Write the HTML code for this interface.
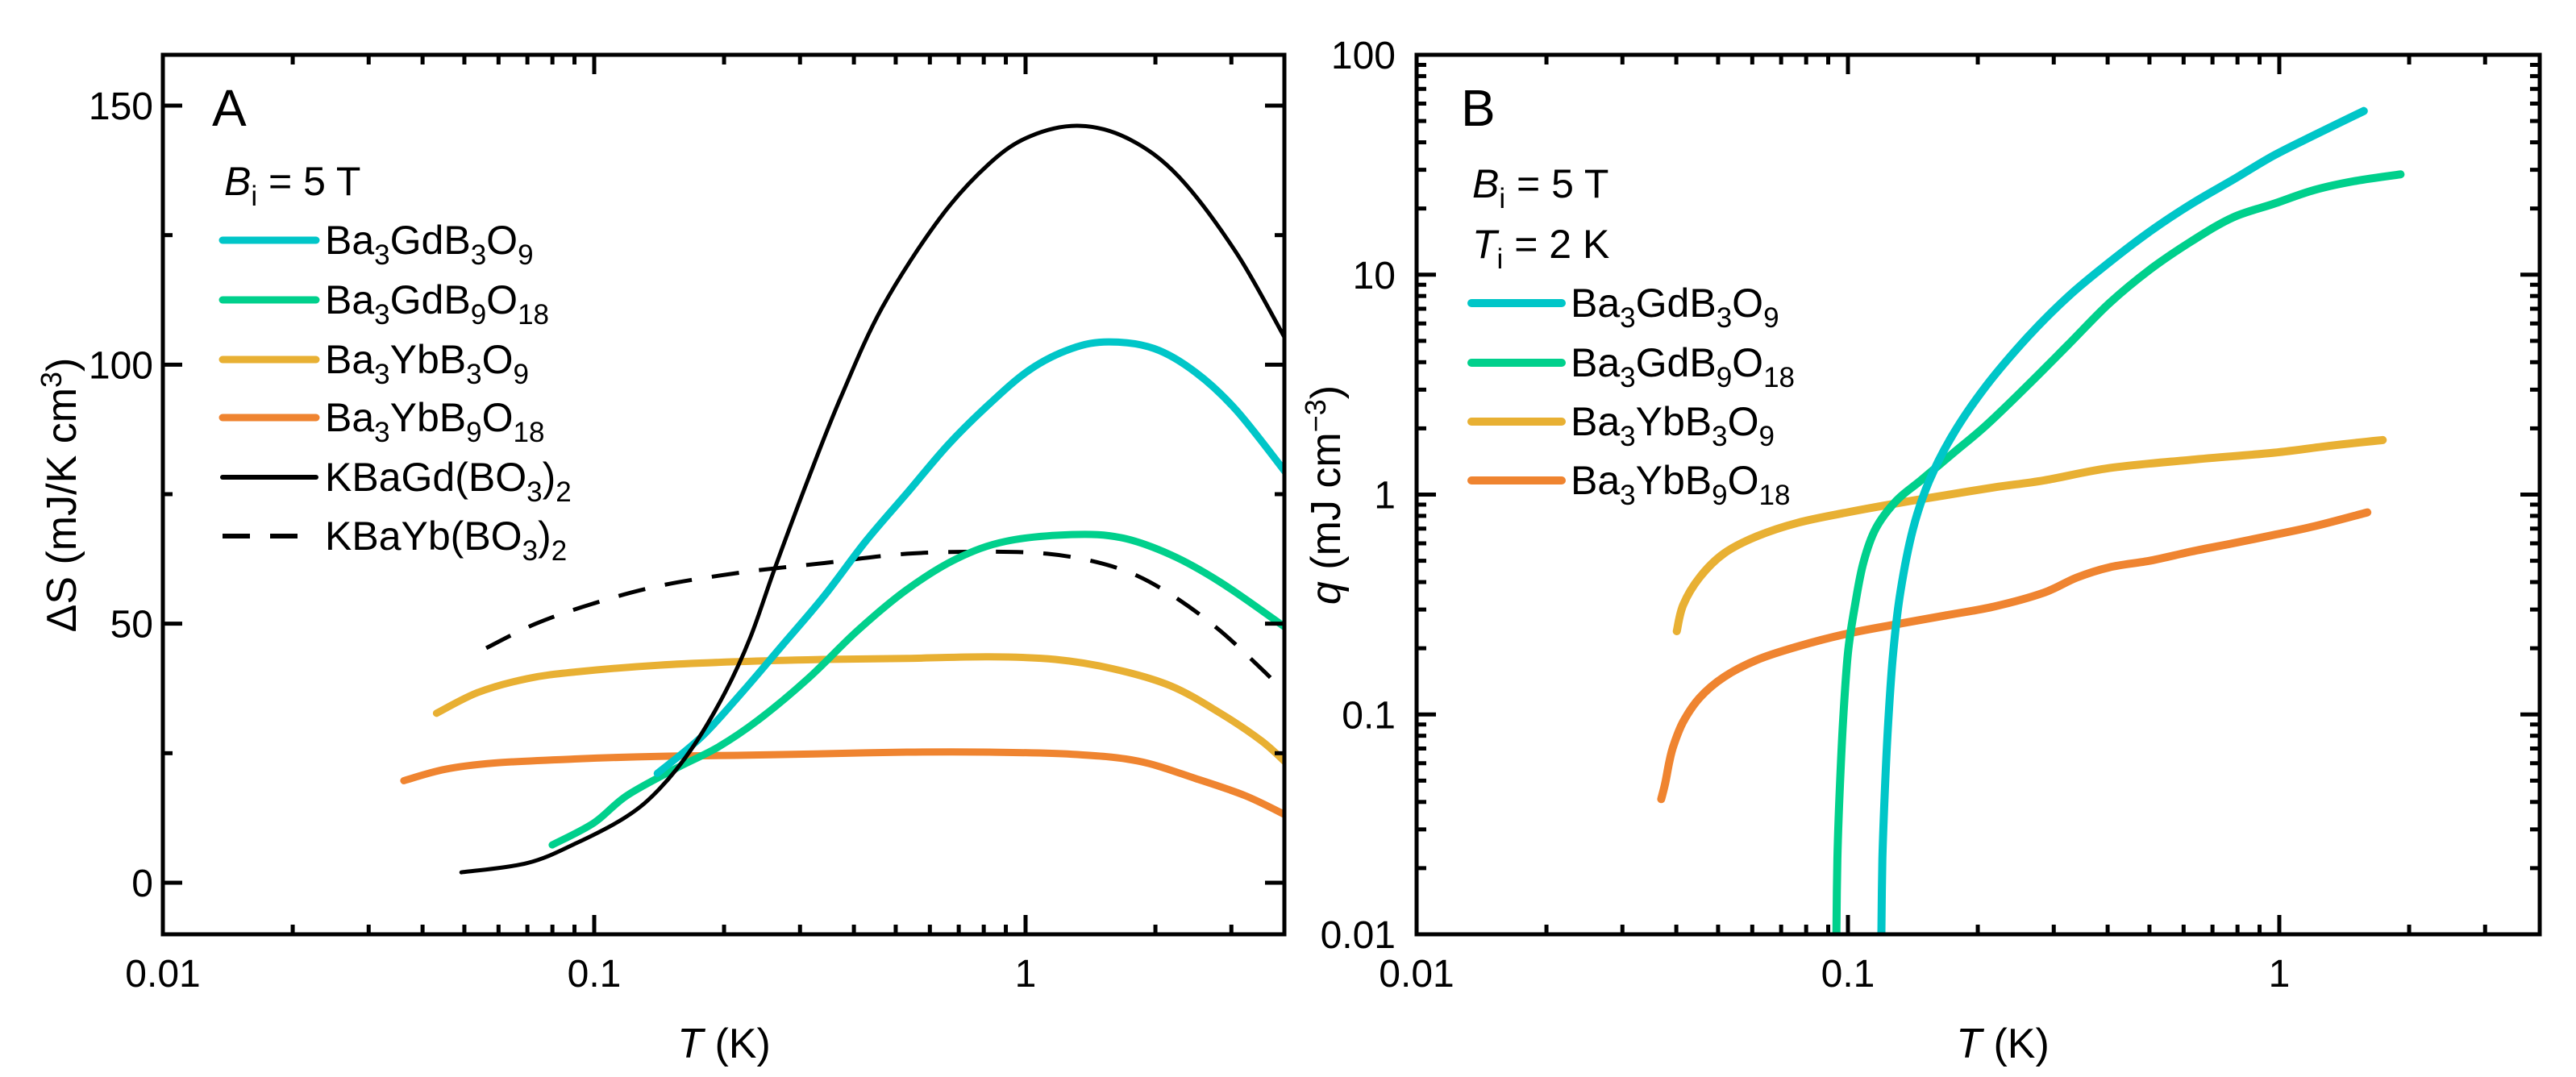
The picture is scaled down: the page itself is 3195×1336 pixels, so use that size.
<!DOCTYPE html>
<html><head><meta charset="utf-8"><style>
html,body{margin:0;padding:0;background:#fff;}
svg{display:block;font-family:"Liberation Sans",Arial,sans-serif;}
</style></head><body>
<svg id="fig" width="3195" height="1336" viewBox="0 0 3195 1336" xmlns="http://www.w3.org/2000/svg">
<g id="panelA"></g>
<g id="panelB"></g>
</svg>
<script>
// ---------- Panel A data (T in K, ΔS in mJ/K cm^3) ----------
const aCyanT=[0.140,0.177,0.220,0.274,0.341,0.426,0.531,0.661,0.824,1.026,1.279,1.560,1.987,2.48,3.08,4.0];
const aCyanV=[21.1,28.1,36.7,46.0,55.3,65.9,75.2,84.5,92.4,99.1,103.1,104.4,103.1,98.5,91.2,79.3];
const aGreenT=[0.0799,0.0996,0.119,0.155,0.193,0.240,0.313,0.407,0.531,0.691,0.900,1.279,1.667,2.17,2.83,4.0];
const aGreenV=[7.3,11.5,16.8,22.1,26.1,31.4,39.4,48.6,56.6,62.5,65.9,67.2,66.6,63.3,58.0,49.3];
const aYellowT=[0.0431,0.0537,0.070,0.0912,0.1416,0.220,0.341,0.531,0.824,1.172,1.594,2.17,2.83,3.52,4.0];
const aYellowV=[32.7,36.7,39.4,40.7,42.0,42.7,43.1,43.3,43.6,43.1,41.3,38.0,32.7,27.4,23.3];
const aOrangeT=[0.0362,0.0451,0.0587,0.0912,0.1416,0.220,0.341,0.531,0.824,1.279,1.82,2.48,3.23,4.0];
const aOrangeV=[19.7,21.9,23.1,23.9,24.4,24.6,24.9,25.2,25.2,24.8,23.5,20.1,16.8,13.1];
const aGdT=[0.0492,0.070,0.0912,0.119,0.1416,0.169,0.201,0.230,0.262,0.313,0.373,0.465,0.632,0.824,1.026,1.337,1.742,2.27,3.08,4.0];
const aGdV=[2.0,3.8,7.7,12.8,18.1,26.1,36.7,47.3,60.6,77.8,93.7,111.0,128.2,138.8,144.1,146.1,143.5,136.2,121.6,105.0];
const aYbT=[0.0562,0.0732,0.0996,0.1416,0.220,0.341,0.531,0.824,1.122,1.459,1.82,2.27,2.83,3.52,4.0];
const aYbV=[45.3,50.0,53.9,57.3,59.9,61.7,63.5,63.9,63.5,61.9,59.2,54.6,48.6,41.3,36.7];
const aYTicks=[0,50,100,150];
const aYTickLabels=["0","50","100","150"];
const xTicks=[0.01,0.1,1];
const xTickLabels=["0.01","0.1","1"];
// ---------- Panel B data (T in K, q in mJ/cm^3) ----------
const bCyanT=[0.1195,0.1202,0.1218,0.1240,0.1273,0.1324,0.1414,0.1542,0.1758,0.2094,0.2607,0.3246,0.404,0.503,0.626,0.780,0.970,1.208,1.570];
const bCyanV=[0.0095,0.022,0.0452,0.0927,0.1905,0.363,0.693,1.15,1.90,3.13,5.19,7.98,11.4,15.8,21.0,27.0,34.8,43.2,55.5];
const bGreenT=[0.0940,0.0945,0.0957,0.0974,0.1000,0.1040,0.1086,0.1161,0.1295,0.1476,0.1758,0.2094,0.2607,0.3246,0.404,0.503,0.626,0.780,0.970,1.208,1.503,1.91];
const bGreenV=[0.0095,0.022,0.0452,0.0927,0.1905,0.319,0.491,0.703,0.938,1.16,1.55,2.07,3.13,4.82,7.43,10.6,14.2,18.2,21.0,24.3,26.7,28.6];
const bYellowT=[0.0401,0.0415,0.0453,0.0516,0.0615,0.0766,0.0996,0.1295,0.1684,0.219,0.2847,0.404,0.626,0.970,1.318,1.737];
const bYellowV=[0.239,0.315,0.420,0.540,0.646,0.745,0.830,0.912,0.993,1.08,1.16,1.32,1.44,1.55,1.67,1.77];
const bOrangeT=[0.0369,0.0377,0.0385,0.0394,0.0415,0.0453,0.0516,0.0615,0.0766,0.0996,0.1295,0.1684,0.219,0.2847,0.339,0.404,0.503,0.626,0.780,0.970,1.208,1.60];
const bOrangeV=[0.0412,0.0486,0.0603,0.0721,0.0927,0.119,0.148,0.177,0.204,0.233,0.257,0.282,0.310,0.358,0.419,0.467,0.501,0.551,0.600,0.655,0.718,0.830];
const bYTicks=[0.01,0.1,1,10,100];
const bYTickLabels=["0.01","0.1","1","10","100"];

const NS="http://www.w3.org/2000/svg";
function mk(parent,tag,attrs){const e=document.createElementNS(NS,tag);for(const k in attrs)e.setAttribute(k,attrs[k]);parent.appendChild(e);return e;}
const C={cyan:"#00c6c8",green:"#00d08c",yellow:"#e8b033",orange:"#ef8430"};
const TOP=68,BOT=1159;
function xScale(L){const dec=535;return t=>L+(Math.log10(t)+2)*dec;}
const xA=xScale(202), xB=xScale(1757);
const yA=v=>1095-v*(964/150);
const yB=v=>BOT-(Math.log10(v)+2)*(1091/4);
function pathD(xs,ys,fx,fy){
  const P=xs.map((t,i)=>[fx(t),fy(ys[i])]);
  let d="M"+P[0][0].toFixed(1)+","+P[0][1].toFixed(1);
  for(let i=0;i<P.length-1;i++){
    const p0=P[Math.max(0,i-1)],p1=P[i],p2=P[i+1],p3=P[Math.min(P.length-1,i+2)];
    const c1=[p1[0]+(p2[0]-p0[0])/6,p1[1]+(p2[1]-p0[1])/6];
    const c2=[p2[0]-(p3[0]-p1[0])/6,p2[1]-(p3[1]-p1[1])/6];
    d+=" C"+c1[0].toFixed(1)+","+c1[1].toFixed(1)+" "+c2[0].toFixed(1)+","+c2[1].toFixed(1)+" "+p2[0].toFixed(1)+","+p2[1].toFixed(1);
  }
  return d;
}

function frame(g,L,R){
  const r=mk(g,"rect",{x:L,y:TOP,width:R-L,height:BOT-TOP,fill:"none",stroke:"#000","stroke-width":5});
  
  
}
function tick(g,x1,y1,x2,y2){mk(g,"line",{x1,y1,x2,y2,stroke:"#000","stroke-width":5});}
function xTicksDraw(g,fx,R){
  for(let d=-2;d<=0;d++){for(let m=1;m<=9;m++){const t=m*Math.pow(10,d);const x=fx(t);if(x>R-3)continue;const len=m===1?24:12;
    if(x>fx(0.01)+3){tick(g,x,BOT,x,BOT-len);tick(g,x,TOP,x,TOP+len);}}}
  xTicks.forEach((t,i)=>{const tx=mk(g,"text",{x:fx(t),y:1224,"font-size":48,"text-anchor":"middle"});tx.textContent=xTickLabels[i];
    
    });
}
function seriesLine(g,xs,ys,fx,fy,color,w,name,dash){
  const p=mk(g,"path",{d:pathD(xs,ys,fx,fy),fill:"none",stroke:color,"stroke-width":w,"stroke-linejoin":"round","stroke-linecap":"round"});
  if(dash){p.setAttribute("stroke-dasharray",dash);p.setAttribute("stroke-linecap","butt");}
  
  
  return p;
}
// parts: strings are normal, arrays [s] are subscripts
function richText(t,parts,base,fs){
  let html="";
  parts.forEach(p=>{
    if(typeof p==="string")html+=`<tspan y="${base}" font-size="${fs}">${p}</tspan>`;
    else html+=`<tspan y="${base+13}" font-size="${Math.round(fs*0.7)}">${p[0]}</tspan>`;
  });
  t.innerHTML=html;
}
function legendEntry(g,x1,x2,y,color,w,parts,name,dash){
  const e=mk(g,"g",{});
  
  
  const l=mk(e,"line",{x1,y1:y,x2,y2:y,stroke:color,"stroke-width":w,"stroke-linecap":dash?"butt":"round"});
  if(dash)l.setAttribute("stroke-dasharray",dash);
  const t=mk(e,"text",{x:x2+11,y:y+17,"font-size":50});
  richText(t,parts,y+17,50);
}
function annot(g,x,y,sym,rest,name){
  const t=mk(g,"text",{x,y,"font-size":50});
  t.innerHTML=`<tspan font-style="italic">${sym}</tspan><tspan y="${y+13}" font-size="35">i</tspan><tspan y="${y}"> = ${rest}</tspan>`;
  
  
}

// ---------- Panel A ----------
(function(){
  const g=document.getElementById("panelA");const L=202,R=1593;
  const clip=mk(g,"clipPath",{id:"clipA"});mk(clip,"rect",{x:L,y:TOP,width:R-L,height:BOT-TOP});
  const data=mk(g,"g",{"clip-path":"url(#clipA)"});
  seriesLine(data,aYbT,aYbV,xA,yA,"#000",5,"kbayb-bo3-2-dashed-line","34 25");
  seriesLine(data,aOrangeT,aOrangeV,xA,yA,C.orange,9,"ba3ybb9o18-line");
  seriesLine(data,aYellowT,aYellowV,xA,yA,C.yellow,9,"ba3ybb3o9-line");
  seriesLine(data,aGreenT,aGreenV,xA,yA,C.green,9,"ba3gdb9o18-line");
  seriesLine(data,aCyanT,aCyanV,xA,yA,C.cyan,9,"ba3gdb3o9-line");
  seriesLine(data,aGdT,aGdV,xA,yA,"#000",5,"kbagd-bo3-2-line");
  frame(g,L,R);
  xTicksDraw(g,xA,R);
  for(let v=0;v<=150;v+=25){const y=yA(v);const len=v%50===0?24:12;tick(g,L,y,L+len,y);tick(g,R,y,R-len,y);}
  aYTicks.forEach((v,i)=>{const t=mk(g,"text",{x:190,y:yA(v)+17,"font-size":48,"text-anchor":"end"});t.textContent=aYTickLabels[i];
    
    });
  const yl=mk(g,"text",{x:0,y:0,"font-size":52,"text-anchor":"middle",transform:"translate(94,614) rotate(-90)"});
  yl.innerHTML='ΔS (mJ/K cm<tspan dy="-18" font-size="36">3</tspan><tspan dy="18">)</tspan>';
  
  
  const xl=mk(g,"text",{x:898,y:1312,"font-size":52,"text-anchor":"middle"});
  xl.innerHTML='<tspan font-style="italic">T</tspan> (K)';
  
  
  const pl=mk(g,"text",{x:263,y:156,"font-size":64});pl.textContent="A";
  
  
  annot(g,278,242,"B","5 T","field-annotation");
  const lg=mk(g,"g",{});
  
  
  legendEntry(lg,276,392,298,C.cyan,9,["Ba",["3"],"GdB",["3"],"O",["9"]],"legend-entry-ba3gdb3o9");
  legendEntry(lg,276,392,372,C.green,9,["Ba",["3"],"GdB",["9"],"O",["18"]],"legend-entry-ba3gdb9o18");
  legendEntry(lg,276,392,446,C.yellow,9,["Ba",["3"],"YbB",["3"],"O",["9"]],"legend-entry-ba3ybb3o9");
  legendEntry(lg,276,392,518,C.orange,9,["Ba",["3"],"YbB",["9"],"O",["18"]],"legend-entry-ba3ybb9o18");
  legendEntry(lg,276,392,592,"#000",6,["KBaGd(BO",["3"],")",["2"]],"legend-entry-kbagd");
  legendEntry(lg,276,392,665,"#000",6,["KBaYb(BO",["3"],")",["2"]],"legend-entry-kbayb","34 25");
})();

// ---------- Panel B ----------
(function(){
  const g=document.getElementById("panelB");const L=1757,R=3150;
  const clip=mk(g,"clipPath",{id:"clipB"});mk(clip,"rect",{x:L,y:TOP,width:R-L,height:BOT-TOP});
  const data=mk(g,"g",{"clip-path":"url(#clipB)"});
  seriesLine(data,bOrangeT,bOrangeV,xB,yB,C.orange,10,"ba3ybb9o18-line");
  seriesLine(data,bYellowT,bYellowV,xB,yB,C.yellow,10,"ba3ybb3o9-line");
  seriesLine(data,bGreenT,bGreenV,xB,yB,C.green,10,"ba3gdb9o18-line");
  seriesLine(data,bCyanT,bCyanV,xB,yB,C.cyan,10,"ba3gdb3o9-line");
  frame(g,L,R);
  xTicksDraw(g,xB,R);
  for(let d=-2;d<=1;d++){for(let m=1;m<=9;m++){const v=m*Math.pow(10,d);const y=yB(v);const len=m===1?24:12;
    if(m===1&&d===-2)continue;tick(g,L,y,L+len,y);tick(g,R,y,R-len,y);}}
  bYTicks.forEach((v,i)=>{const t=mk(g,"text",{x:1731,y:yB(v)+17,"font-size":48,"text-anchor":"end"});t.textContent=bYTickLabels[i];
    
    });
  const yl=mk(g,"text",{x:0,y:0,"font-size":52,"text-anchor":"middle",transform:"translate(1662,614) rotate(-90)"});
  yl.innerHTML='<tspan font-style="italic">q</tspan> (mJ cm<tspan dy="-18" font-size="36">−3</tspan><tspan dy="18">)</tspan>';
  
  
  const xl=mk(g,"text",{x:2484,y:1312,"font-size":52,"text-anchor":"middle"});
  xl.innerHTML='<tspan font-style="italic">T</tspan> (K)';
  
  
  const pl=mk(g,"text",{x:1812,y:156,"font-size":64});pl.textContent="B";
  
  
  annot(g,1826,245,"B","5 T","field-annotation");
  annot(g,1826,320,"T","2 K","temperature-annotation");
  const lg=mk(g,"g",{});
  
  
  legendEntry(lg,1825,1937,376,C.cyan,10,["Ba",["3"],"GdB",["3"],"O",["9"]],"legend-entry-ba3gdb3o9");
  legendEntry(lg,1825,1937,450,C.green,10,["Ba",["3"],"GdB",["9"],"O",["18"]],"legend-entry-ba3gdb9o18");
  legendEntry(lg,1825,1937,523,C.yellow,10,["Ba",["3"],"YbB",["3"],"O",["9"]],"legend-entry-ba3ybb3o9");
  legendEntry(lg,1825,1937,596,C.orange,10,["Ba",["3"],"YbB",["9"],"O",["18"]],"legend-entry-ba3ybb9o18");
})();
</script>
</body></html>
